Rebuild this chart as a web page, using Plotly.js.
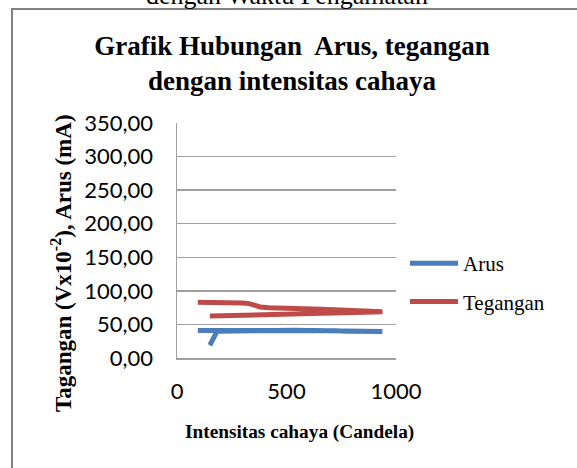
<!DOCTYPE html>
<html>
<head>
<meta charset="utf-8">
<script src="https://cdn.plot.ly/plotly-3.0.1.min.js"></script>
<style>html,body{margin:0;padding:0;background:#fff;}#chart{width:577px;height:468px;}</style>
</head>
<body>
<div id="chart"></div>
<script>
// Light intensity (Candela), in order of observation
const intensitas = [95, 120, 150, 180, 210, 240, 270, 300, 330, 355, 380, 420, 480, 540, 600, 660, 720, 780, 840, 900, 938,
                    900, 840, 780, 720, 660, 600, 540, 480, 420, 360, 300, 240, 200, 183, 150];
// Current (mA)
const arus = [41, 41, 41, 41, 41, 41, 41.5, 41.5, 41.5, 41.5, 41.5, 41.5, 42, 42, 41.5, 41, 40.5, 40, 40, 39.5, 39.5,
              39.5, 39.5, 40, 40, 40.5, 41, 41.5, 41.5, 41, 41, 40.5, 40.5, 40.5, 40, 19];
// Voltage (V x 10^-2)
const tegangan = [83, 83, 83, 83, 83, 82.5, 82.5, 82, 81, 78, 76, 75, 74, 73.5, 73, 72.5, 72, 71.5, 71, 70, 69,
                  68.5, 67.5, 67, 67, 66.5, 66, 66, 65.5, 65, 64.5, 64, 63.5, 63, 62.5, 62.5];
const seriesNames = ["Arus", "Tegangan"];
const yTicks = [0, 50, 100, 150, 200, 250, 300, 350];
const yTickLabels = ["0,00", "50,00", "100,00", "150,00", "200,00", "250,00", "300,00", "350,00"];
const xTicks = [0, 500, 1000];
const xTickLabels = ["0", "500", "1000"];

const W = 577, H = 468;
const px = v => v / W, py = v => (H - v) / H;
const serif = "Liberation Serif, Times New Roman, serif";
const sans = "Lato, Open Sans, sans-serif";

const traces = [
  {x: intensitas, y: arus, name: seriesNames[0], type: "scatter", mode: "lines",
   line: {color: "#4A7EBB", width: 5}, legendgroup: "a"},
  {x: intensitas, y: tegangan, name: seriesNames[1], type: "scatter", mode: "lines",
   line: {color: "#BE4B48", width: 5}, legendgroup: "b"}
];

const layout = {
  width: W, height: H,
  margin: {l: 0, r: 0, t: 0, b: 0},
  paper_bgcolor: "#fff", plot_bgcolor: "#fff",
  showlegend: true,
  title: {
    text: "Grafik Hubungan  Arus, tegangan<br>dengan intensitas cahaya",
    font: {family: serif, size: 27, color: "#000", weight: "bold"},
    x: px(292), xanchor: "center", y: py(55), yanchor: "middle", xref: "paper", yref: "paper"
  },
  xaxis: {
    domain: [px(177), px(396)],
    range: [0, 1000],
    tickvals: xTicks, ticktext: xTickLabels,
    showgrid: false, zeroline: false,
    showline: true, linecolor: "#a0a0a0", linewidth: 1.5,
    ticks: "", ticklabelstandoff: 13,
    tickfont: {family: sans, size: 22, color: "#000"}
  },
  yaxis: {
    domain: [py(358), py(123)],
    range: [0, 350],
    tickvals: yTicks, ticktext: yTickLabels,
    showgrid: true, gridcolor: "#a0a0a0", gridwidth: 1.3,
    zeroline: false,
    showline: true, linecolor: "#a0a0a0", linewidth: 1.5,
    ticks: "", ticklabelstandoff: 18,
    tickfont: {family: sans, size: 22, color: "#000"}
  },
  legend: {
    x: px(405), xanchor: "left", y: py(243), yanchor: "top",
    font: {family: serif, size: 21, color: "#000"},
    traceorder: "grouped", tracegroupgap: 8,
    bgcolor: "rgba(0,0,0,0)", itemwidth: 48
  },
  annotations: [
    {text: "dengan Waktu Pengamatan", xref: "paper", yref: "paper", x: px(287), y: py(-5),
     xanchor: "center", yanchor: "middle", showarrow: false,
     font: {family: serif, size: 26, color: "#000"}},
    {text: "Intensitas cahaya (Candela)", xref: "paper", yref: "paper", x: px(299), y: py(432),
     xanchor: "center", yanchor: "middle", showarrow: false,
     font: {family: serif, size: 19.3, color: "#000", weight: "bold"}},
    {text: "Tagangan (Vx10<sup>-2</sup>), Arus (mA)", xref: "paper", yref: "paper", x: px(61), y: py(263),
     xanchor: "center", yanchor: "middle", textangle: -90, showarrow: false,
     font: {family: serif, size: 23, color: "#000", weight: "bold"}}
  ],
  shapes: [
    {type: "rect", xref: "paper", yref: "paper", x0: px(12), x1: px(580), y0: py(480), y1: py(9),
     line: {color: "#808080", width: 2}, fillcolor: "rgba(0,0,0,0)", layer: "below"}
  ]
};

Plotly.newPlot("chart", traces, layout, {displayModeBar: false, staticPlot: true});
</script>
</body>
</html>
